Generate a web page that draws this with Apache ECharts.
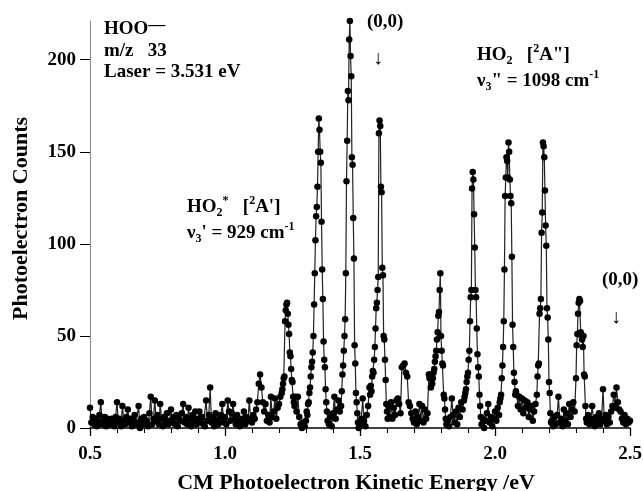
<!DOCTYPE html>
<html>
<head>
<meta charset="utf-8">
<script src="https://cdn.jsdelivr.net/npm/echarts@6/dist/echarts.min.js"></script>
<style>
html,body{margin:0;padding:0;background:#fff;}
#chart{width:643px;height:491px;}
</style>
</head>
<body>
<div id="chart"></div>
<script>
// [kinetic energy (eV), photoelectron counts]
const spectrum = [
[0.500,11],[0.505,3],[0.510,6],[0.515,2],[0.520,5],[0.525,1],[0.530,4],[0.535,7],[0.540,14],[0.545,2],
[0.550,4],[0.555,6],[0.560,1],[0.565,5],[0.570,3],[0.575,2],[0.580,5],[0.585,4],[0.590,1],[0.595,6],
[0.600,14],[0.605,3],[0.610,5],[0.615,1],[0.620,12],[0.625,4],[0.630,2],[0.635,6],[0.640,10],[0.645,3],
[0.650,5],[0.655,1],[0.660,4],[0.665,7],[0.670,2],[0.675,3],[0.680,12],[0.685,0],[0.690,5],[0.695,2],
[0.700,6],[0.705,3],[0.710,4],[0.715,1],[0.720,8],[0.725,17],[0.730,2],[0.735,5],[0.740,15],[0.745,4],
[0.750,7],[0.755,2],[0.760,13],[0.765,5],[0.770,1],[0.775,6],[0.780,3],[0.785,8],[0.790,2],[0.795,4],
[0.800,10],[0.805,3],[0.810,6],[0.815,2],[0.820,7],[0.825,1],[0.830,5],[0.835,4],[0.840,8],[0.845,13],
[0.850,3],[0.855,6],[0.860,2],[0.865,11],[0.870,5],[0.875,1],[0.880,7],[0.885,4],[0.890,9],[0.895,2],
[0.900,5],[0.905,9],[0.910,3],[0.915,6],[0.920,2],[0.925,1],[0.930,15],[0.935,4],[0.940,7],[0.945,22],
[0.950,3],[0.955,6],[0.960,1],[0.965,8],[0.970,4],[0.975,2],[0.980,5],[0.985,7],[0.990,13],[0.995,3],
[1.000,6],[1.005,2],[1.010,15],[1.015,9],[1.020,4],[1.025,8],[1.030,13],[1.035,5],[1.040,2],[1.045,7],
[1.050,4],[1.055,1],[1.060,3],[1.065,5],[1.070,9],[1.075,2],[1.080,6],[1.085,4],[1.090,15],[1.095,5],
[1.100,3],[1.105,7],[1.110,5],[1.115,10],[1.120,14],[1.125,24],[1.130,29],[1.135,22],[1.140,14],[1.145,9],
[1.150,13],[1.155,4],[1.160,7],[1.165,3],[1.170,17],[1.175,6],[1.180,9],[1.185,16],[1.190,5],[1.195,11],
[1.200,13],[1.205,17],[1.2100,19],[1.2125,21],[1.2150,24],[1.2175,27],[1.2200,28],[1.2225,58],[1.2250,64],
[1.2275,67],[1.2300,68],[1.2325,62],[1.2350,56],[1.2375,51],[1.2400,41],[1.2425,39],[1.2450,32],[1.2475,26],
[1.2500,25],[1.2525,17],[1.2550,14],[1.2575,12],[1.2600,17],[1.265,9],[1.270,17],[1.275,6],[1.280,2],
[1.285,0],[1.290,3],[1.295,1],
[1.3000,4],[1.3025,9],[1.3050,7],[1.3075,13],[1.3100,14],[1.3125,19],[1.3150,22],[1.3175,28],[1.3200,33],
[1.3225,36],[1.3250,41],[1.3275,50],[1.3300,67],[1.3325,84],[1.3350,102],[1.3375,115],[1.3400,120],
[1.3425,131],[1.3450,150],[1.3475,168],[1.3500,162],[1.3525,150],[1.3550,144],[1.3575,112],[1.3600,86],
[1.3625,70],[1.3650,47],[1.3675,37],[1.3700,33],[1.3725,21],[1.3750,14],[1.3775,9],[1.3800,4],
[1.385,2],[1.390,6],[1.395,1],[1.400,8],[1.405,17],[1.410,5],[1.415,10],[1.420,15],[1.425,9],
[1.4300,12],[1.4325,20],[1.4350,29],[1.4375,34],[1.4400,42],[1.4425,50],[1.4450,59],[1.4475,84],
[1.4500,134],[1.4525,156],[1.4550,183],[1.4575,178],[1.4600,211],[1.4625,221],[1.4650,202],[1.4675,191],
[1.4700,147],[1.4725,143],[1.4750,114],[1.4775,92],[1.4800,45],[1.4825,35],[1.4850,19],[1.4875,14],
[1.4900,8],[1.4925,3],
[1.495,0],[1.500,2],[1.505,5],[1.510,16],[1.515,4],[1.520,1],[1.525,7],[1.530,12],[1.535,22],
[1.5375,18],[1.5400,23],[1.5425,20],[1.5450,28],[1.5475,31],[1.5500,30],[1.5525,37],[1.5550,44],
[1.5575,54],[1.5600,65],[1.5625,68],[1.5650,75],[1.5675,82],[1.5700,160],[1.5725,167],[1.5750,164],
[1.5775,131],[1.5800,128],[1.5825,87],[1.5850,83],[1.5875,50],[1.5900,48],[1.5925,37],[1.5950,26],
[1.5975,13],[1.6000,9],[1.6025,5],
[1.605,12],[1.610,6],[1.615,14],[1.620,5],[1.625,11],[1.630,7],[1.635,15],[1.640,16],[1.645,13],[1.650,8],
[1.655,33],[1.660,34],[1.665,35],[1.670,30],[1.675,28],[1.680,14],[1.685,12],[1.690,8],[1.695,5],[1.700,3],
[1.705,9],[1.710,2],[1.715,6],[1.720,13],[1.725,4],[1.730,12],[1.735,3],[1.740,10],[1.745,5],[1.750,8],
[1.755,29],
[1.7575,27],[1.7600,29],[1.7625,22],[1.7650,27],[1.7675,24],[1.7700,27],[1.7725,30],[1.7750,32],
[1.7775,36],[1.7800,39],[1.7825,42],[1.7850,48],[1.7875,52],[1.7900,61],[1.7925,63],[1.7950,75],
[1.7975,84],[1.8000,50],[1.8025,42],[1.8050,35],[1.8075,34],[1.8100,18],[1.8125,16],[1.8150,10],
[1.8175,5],[1.8200,2],
[1.825,4],[1.830,1],[1.835,6],[1.840,16],[1.845,7],[1.850,3],[1.855,9],[1.860,2],[1.865,11],[1.870,6],
[1.875,14],[1.880,10],[1.885,15],
[1.8875,17],[1.8900,19],[1.8925,21],[1.8950,25],[1.8975,28],[1.9000,30],[1.9025,37],[1.9050,42],
[1.9075,58],[1.9100,71],[1.9125,75],[1.9150,130],[1.9175,139],[1.9200,135],[1.9225,116],[1.9250,98],
[1.9275,75],[1.9300,71],[1.9325,54],[1.9350,40],[1.9375,33],[1.9400,28],[1.9425,18],[1.9450,12],[1.9475,6],
[1.950,2],[1.955,5],[1.960,0],[1.965,4],[1.970,8],[1.975,13],[1.980,3],[1.985,6],[1.990,1],[1.995,5],
[2.000,9],[2.005,4],[2.010,11],[2.015,7],
[2.0175,14],[2.0200,16],[2.0225,18],[2.0250,27],[2.0275,34],[2.0300,44],[2.0325,58],[2.0350,86],
[2.0375,126],[2.0400,136],[2.0425,147],[2.0450,145],[2.0475,136],[2.0500,155],[2.0525,150],[2.0550,135],
[2.0575,126],[2.0600,122],[2.0625,93],[2.0650,56],[2.0675,44],[2.0700,30],[2.0725,25],[2.0750,18],
[2.0775,20],[2.0800,18],
[2.085,12],[2.090,17],[2.095,10],[2.100,16],[2.105,8],[2.110,15],[2.115,11],[2.120,14],[2.125,6],[2.130,10],
[2.135,12],[2.140,4],[2.145,9],[2.150,13],[2.155,18],
[2.1575,28],[2.1600,34],[2.1625,35],[2.1650,62],[2.1675,65],[2.1700,70],[2.1725,106],[2.1750,117],
[2.1775,155],[2.1800,153],[2.1825,147],[2.1850,129],[2.1875,110],[2.1900,99],[2.1925,65],[2.1950,60],
[2.1975,48],[2.2000,25],[2.2025,19],[2.2050,8],[2.2075,3],
[2.210,4],[2.215,1],[2.220,6],[2.225,2],[2.230,7],[2.235,17],[2.240,3],[2.245,5],[2.250,1],[2.255,10],
[2.260,4],[2.265,8],[2.270,2],[2.275,13],[2.280,6],[2.285,10],[2.290,14],[2.295,9],
[2.3000,27],[2.3025,45],[2.3050,51],[2.3075,62],[2.3100,68],[2.3125,70],[2.3150,69],[2.3175,52],
[2.3200,50],[2.3225,48],[2.3250,44],[2.3275,50],[2.3300,29],[2.3325,28],[2.3350,12],[2.3375,5],
[2.340,3],[2.345,7],[2.350,2],[2.355,5],[2.360,12],[2.365,4],[2.370,1],[2.375,6],[2.380,3],[2.385,8],
[2.390,2],[2.395,5],[2.400,21],[2.405,4],[2.410,7],[2.415,2],[2.420,6],[2.425,3],[2.430,9],[2.435,12],
[2.440,18],[2.445,11],[2.450,22],[2.455,14],[2.460,10],[2.465,9],[2.470,5],[2.475,3],[2.480,7],[2.485,2],
[2.490,5],[2.495,3],[2.500,4]
];

const yTickValues = [0, 50, 100, 150, 200];
const xRange = [0.5, 2.5];
const yRange = [0, 221];
const xTitle = 'CM Photoelectron Kinetic Energy /eV';
const yTitle = 'Photoelectron Counts';

const F = 'Liberation Serif';
const rich = {
  b:   {fontFamily: F, fontWeight: 'bold', fontSize: 19, lineHeight: 24, fill: '#000'},
  sub: {fontFamily: F, fontWeight: 'bold', fontSize: 12, lineHeight: 11, verticalAlign: 'bottom', fill: '#000'},
  sup: {fontFamily: F, fontWeight: 'bold', fontSize: 12, lineHeight: 12, verticalAlign: 'top', fill: '#000'},
  ol:  {fontFamily: F, fontWeight: 'bold', fontSize: 17, lineHeight: 8, verticalAlign: 'top', fill: '#000'},
  ar:  {fontFamily: F, fontWeight: 'normal', fontSize: 20, lineHeight: 24, fill: '#000'}
};

// annotations: [left x, centre y, rich text]
const annotations = [
  [104, 29, '{b|HOO}{ol|—}'],
  [104, 51, '{b|m/z   33}'],
  [104, 72, '{b|Laser = 3.531 eV}'],
  [367, 22, '{b|(0,0)}'],
  [373, 59, '{ar|↓}'],
  [477, 55, '{b|HO}{sub|2}{b|   [}{sup|2}{b|A"]}'],
  [477, 81, '{b|ν}{sub|3}{b|" = 1098 cm}{sup|-1}'],
  [187, 207, '{b|HO}{sub|2}{sup|*}{b|   [}{sup|2}{b|A\']}'],
  [187, 233, '{b|ν}{sub|3}{b|\' = 929 cm}{sup|-1}'],
  [602, 280, '{b|(0,0)}'],
  [611, 318, '{ar|↓}']
];

const chart = echarts.init(document.getElementById('chart'), null, {renderer: 'canvas'});
chart.setOption({
  animation: false,
  backgroundColor: '#fff',
  grid: {left: 90, right: 13, top: 21, bottom: 63, containLabel: false, outerBoundsMode: 'none'},
  xAxis: {
    type: 'value',
    min: xRange[0], max: xRange[1], interval: 0.5,
    splitLine: {show: false},
    axisLine: {show: true, onZero: false, lineStyle: {color: '#000', width: 1.5}},
    axisTick: {show: true, inside: false, length: 8, lineStyle: {color: '#000', width: 1.3}},
    minorTick: {show: true, splitNumber: 5, length: 5, lineStyle: {color: '#000', width: 1.1}},
    axisLabel: {
      margin: 17, color: '#000', fontFamily: F, fontWeight: 'bold', fontSize: 19,
      formatter: v => v.toFixed(1)
    },
    name: xTitle, nameLocation: 'middle', nameGap: 44,
    nameTextStyle: {color: '#000', fontFamily: F, fontWeight: 'bold', fontSize: 22, padding: [0, 8, 0, 0]}
  },
  yAxis: {
    type: 'value',
    min: yRange[0], max: yRange[1],
    splitLine: {show: false},
    axisLine: {show: true, lineStyle: {color: '#888', width: 1}},
    axisTick: {show: true, inside: false, length: 10, customValues: yTickValues, lineStyle: {color: '#000', width: 1}},
    axisLabel: {
      margin: 14, color: '#000', fontFamily: F, fontWeight: 'bold', fontSize: 19,
      customValues: yTickValues
    },
    name: yTitle, nameLocation: 'middle', nameGap: 58,
    nameTextStyle: {color: '#000', fontFamily: F, fontWeight: 'bold', fontSize: 22, padding: [0, 0, 0, 12]}
  },
  series: [{
    type: 'line',
    data: spectrum,
    showAllSymbol: true,
    symbol: 'circle',
    symbolSize: 6.5,
    itemStyle: {color: '#000'},
    lineStyle: {color: '#222', width: 1.2},
    emphasis: {disabled: true},
    silent: true,
    clip: false,
    z: 2
  }],
  graphic: annotations.map(a => ({
    type: 'text',
    x: a[0], y: a[1], z: 100,
    style: {text: a[2], rich: rich, align: 'left', verticalAlign: 'middle', fill: '#000',
            fontFamily: F, fontWeight: 'bold', fontSize: 19}
  }))
});
</script>
</body>
</html>
